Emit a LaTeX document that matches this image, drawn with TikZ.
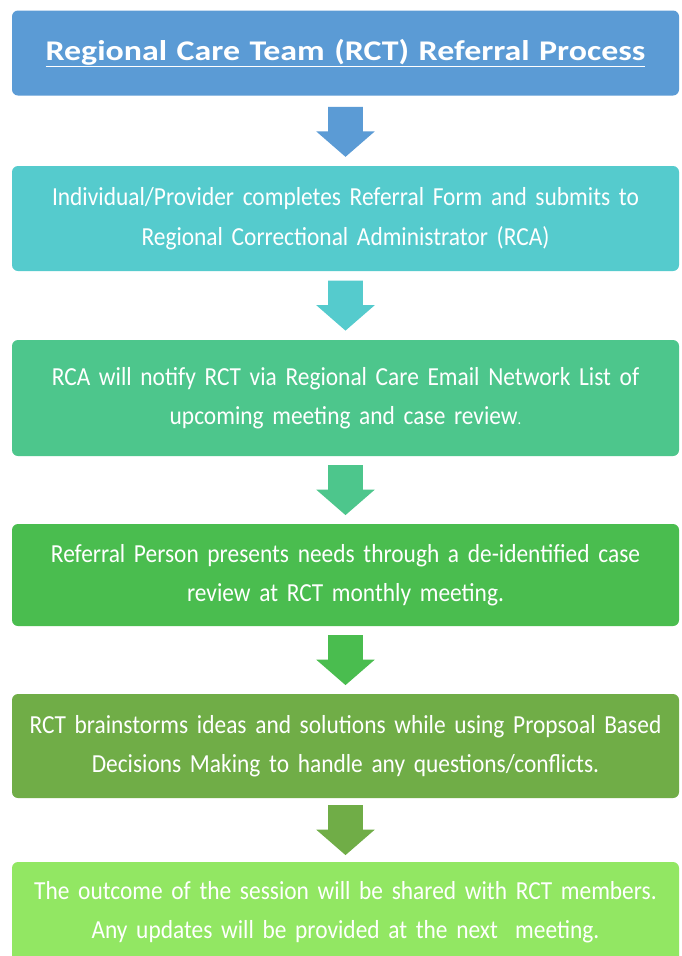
\documentclass[tikz,border=0pt]{standalone}
\usepackage{fontspec}
\setmainfont{Carlito}
\newfontfamily\stepfont[FakeStretch=0.9]{Carlito}
\newfontfamily\headfont[FakeStretch=1.19]{Carlito}
\usetikzlibrary{shapes.arrows,calc}
\definecolor{stepblue}{HTML}{5B9BD5}
\definecolor{stepteal}{HTML}{55CBCD}
\definecolor{stepmint}{HTML}{4DC68C}
\definecolor{stepgreen}{HTML}{4ABD4F}
\definecolor{stepolive}{HTML}{70AD47}
\definecolor{steplime}{HTML}{92E763}
\begin{document}
\begin{tikzpicture}[x=1pt,y=-1pt,
    stepbox/.style={fill=#1,text=white,rounded corners=6pt,minimum width=667pt,
        text width=650pt,align=center,inner sep=0pt,
        font=\stepfont\fontsize{26}{39.5}\selectfont},
    downarrow/.style={fill=#1,single arrow,rotate=-90,inner xsep=0pt,inner ysep=17.25pt,
        single arrow head extend=11.75pt,single arrow tip angle=98,minimum height=50pt}]
    \clip (0,0) rectangle (681,956);
    \fill[white] (0,0) rectangle (681,956);
    % boxes
    \node[stepbox=stepblue,minimum height=85pt,font=\headfont\fontsize{28.5}{36}\selectfont\bfseries] (title) at (345.5,53)
        {\underline{Regional Care Team (RCT) Referral Process}};
    \node[stepbox=stepteal,minimum height=105pt] (form) at (345.5,218.5)
        {Individual/Provider completes Referral Form and submits to\\ Regional Correctional Administrator (RCA)};
    \node[stepbox=stepmint,minimum height=116pt] (notify) at (345.5,398)
        {RCA will notify RCT via Regional Care Email Network List of\\ upcoming meeting and case review{\fontsize{16}{39.5}\selectfont.}};
    \node[stepbox=stepgreen,minimum height=102pt] (review) at (345.5,575)
        {Referral Person presents needs through a de-identified case\\ review at RCT monthly meeting.};
    \node[stepbox=stepolive,minimum height=104pt] (ideas) at (345.5,746)
        {RCT brainstorms ideas and solutions while using Propsoal Based\\ Decisions Making to handle any questions/conflicts.};
    \node[stepbox=steplime,minimum height=100pt] (outcome) at (345.5,912)
        {The outcome of the session will be shared with RCT members.\\ Any updates will be provided at the next\ \ meeting.};
    % arrows between boxes
    \node[downarrow=stepblue] (a1) at ($(title.south)!0.5!(form.north)+(0,-6.5)$) {};
    \node[downarrow=stepteal] (a2) at ($(form.south)!0.5!(notify.north)+(0,-7.5)$) {};
    \node[downarrow=stepmint] (a3) at ($(notify.south)!0.5!(review.north)+(0,-7.5)$) {};
    \node[downarrow=stepgreen] (a4) at ($(review.south)!0.5!(ideas.north)+(0,-7.5)$) {};
    \node[downarrow=stepolive] (a5) at ($(ideas.south)!0.5!(outcome.north)+(0,-7.5)$) {};
\end{tikzpicture}
\end{document}
